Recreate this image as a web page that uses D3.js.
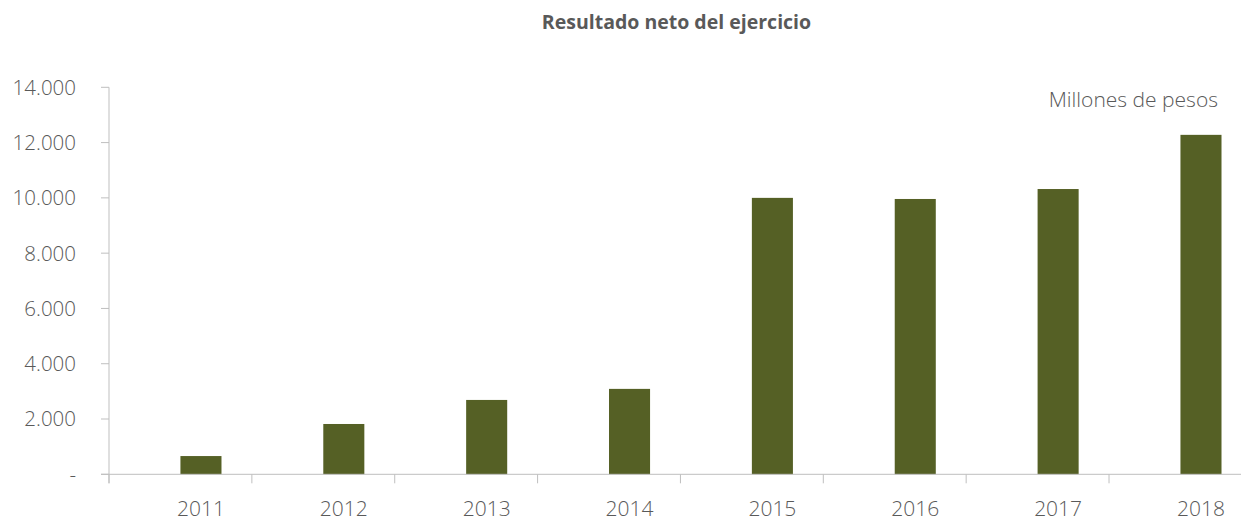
<!DOCTYPE html>
<html lang="es">
<head>
    <meta charset="UTF-8">
    <title>Resultado neto del ejercicio</title>
    <script src="https://cdn.jsdelivr.net/npm/d3@7"></script>
    <style>
        body { margin: 0; background: #fff; }
        text { font-family: "Open Sans", sans-serif; fill: #595959; }
    </style>
</head>
<body>
<div id="chart"></div>
<script>
    // Data (millones de pesos)
    const years = ["2011", "2012", "2013", "2014", "2015", "2016", "2017", "2018"];
    const values = [660, 1820, 2690, 3090, 10000, 9960, 10320, 12280];
    const yTicks = [0, 2000, 4000, 6000, 8000, 10000, 12000, 14000];

    const width = 1241, height = 521;
    const plotLeft = 109, plotTop = 87.3, plotBottom = 474.3, step = 142.86;

    const svg = d3.select("#chart").append("svg")
        .attr("width", width)
        .attr("height", height);

    // categories (axis ticks sit on their boundaries)
    const x = d3.scaleBand()
        .domain(years)
        .range([plotLeft, plotLeft + step * years.length]);

    // the chart is a clustered layout with an empty first series,
    // so the visible bar sits in the right half of each category
    const xs = d3.scaleBand()
        .domain(["vacío", "resultado"])
        .range([0, x.bandwidth()])
        .paddingInner(0)
        .paddingOuter(0.74);

    const y = d3.scaleLinear()
        .domain([0, 14000])
        .range([plotBottom, plotTop]);

    const fmt = v => v === 0 ? "-" : d3.format(",")(v).replace(/,/g, ".");
    const barX = d => x(d) + xs("resultado");

    // Bars
    svg.selectAll("rect.bar")
        .data(values)
        .enter().append("rect")
        .attr("class", "bar")
        .attr("x", (d, i) => barX(years[i]))
        .attr("y", d => y(d))
        .attr("width", xs.bandwidth())
        .attr("height", d => y(0) - y(d))
        .attr("fill", "#556025");

    // Y axis
    const yAxis = svg.append("g");
    yAxis.append("line")
        .attr("x1", plotLeft).attr("x2", plotLeft)
        .attr("y1", plotTop).attr("y2", plotBottom + 9)
        .attr("stroke", "#bfbfbf");
    yAxis.selectAll("line.tick")
        .data(yTicks)
        .enter().append("line")
        .attr("class", "tick")
        .attr("x1", plotLeft - 8).attr("x2", plotLeft)
        .attr("y1", d => y(d)).attr("y2", d => y(d))
        .attr("stroke", "#bfbfbf");
    yAxis.selectAll("text")
        .data(yTicks)
        .enter().append("text")
        .attr("x", 76)
        .attr("y", d => y(d))
        .attr("dy", "0.36em")
        .attr("text-anchor", "end")
        .style("font-size", "20.5px")
        .style("font-weight", 300)
        .text(fmt);

    // X axis
    const xAxis = svg.append("g");
    xAxis.append("line")
        .attr("x1", plotLeft - 8).attr("x2", plotLeft + step * years.length)
        .attr("y1", plotBottom).attr("y2", plotBottom)
        .attr("stroke", "#bfbfbf");
    xAxis.selectAll("line.tick")
        .data(years)
        .enter().append("line")
        .attr("class", "tick")
        .attr("x1", d => x(d)).attr("x2", d => x(d))
        .attr("y1", plotBottom).attr("y2", plotBottom + 9)
        .attr("stroke", "#bfbfbf");
    xAxis.selectAll("text")
        .data(years)
        .enter().append("text")
        .attr("x", d => barX(d) + xs.bandwidth() / 2)
        .attr("y", 516)
        .attr("text-anchor", "middle")
        .style("font-size", "21px")
        .style("font-weight", 300)
        .text(d => d);

    // Title and unit note
    svg.append("text")
        .attr("x", 676.5)
        .attr("y", 29)
        .attr("text-anchor", "middle")
        .style("font-size", "19.5px")
        .style("font-weight", 700)
        .text("Resultado neto del ejercicio");

    svg.append("text")
        .attr("x", 1218)
        .attr("y", 106.5)
        .attr("text-anchor", "end")
        .style("font-size", "21px")
        .style("font-weight", 300)
        .text("Millones de pesos");
</script>
</body>
</html>
